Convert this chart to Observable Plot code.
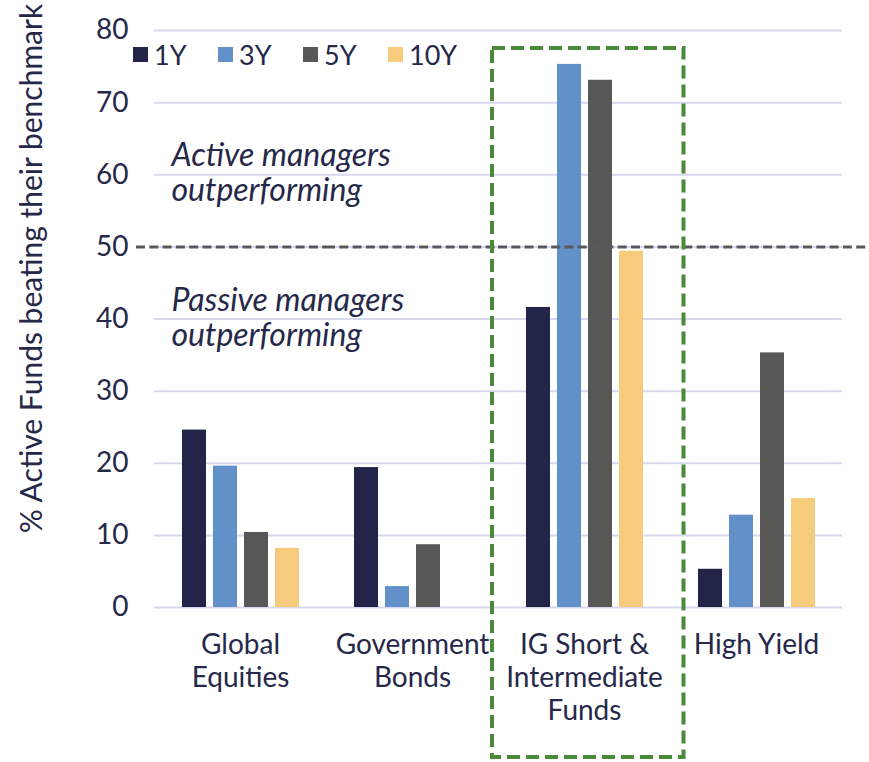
<!DOCTYPE html>
<html>
<head>
<meta charset="utf-8">
<script src="https://cdn.jsdelivr.net/npm/d3@7"></script>
<script src="https://cdn.jsdelivr.net/npm/@observablehq/plot@0.6"></script>
<style>
  html, body { margin: 0; padding: 0; background: #fff; }
  #wrap { position: relative; width: 869px; height: 762px; }
  #legend { position: absolute; top: 38px; left: 133px; display: flex; font: 27px Lato, sans-serif; color: #262849; }
  #legend .item { display: flex; align-items: center; width: 85px; }
  #legend .sw { width: 15px; height: 15px; margin-right: 6px; }
</style>
</head>
<body>
<div id="wrap"><div id="legend"></div></div>
<script>
const categories = ["Global Equities", "Government Bonds", "IG Short & Intermediate Funds", "High Yield"];
const tickLabels = ["Global\nEquities", "Government\nBonds", "IG Short &\nIntermediate\nFunds", "High Yield"];
const series = ["1Y", "3Y", "5Y", "10Y"];
const colors = ["#222448", "#6290c9", "#575756", "#f7cb7c"];
const values1Y  = [24.6, 19.4, 41.6, 5.3];
const values3Y  = [19.6, 2.9, 75.3, 12.8];
const values5Y  = [10.4, 8.7, 73.1, 35.3];
const values10Y = [8.2, null, 49.4, 15.1];
const yTicks = [0, 10, 20, 30, 40, 50, 60, 70, 80];
const yTitle = "% Active Funds beating their benchmark";
const thresholdValue = 50;
const annotations = [
  {text: "Active managers\noutperforming", y: 60.3},
  {text: "Passive managers\noutperforming", y: 40.3}
];
const highlightCategory = "IG Short & Intermediate Funds";
const highlightRange = {y1: -20.8, y2: 77.5};

const seriesValues = [values1Y, values3Y, values5Y, values10Y];
const data = [];
categories.forEach((c, i) => series.forEach((s, j) => {
  const v = seriesValues[j][i];
  if (v != null) data.push({cat: c, series: s, value: v});
}));

const textColor = "#262849";
const annoData = annotations.map(a => ({...a, cat: categories[0]}));
const ruleData = categories.map(c => ({cat: c, y: thresholdValue}));
const titleData = [{cat: categories[0], y: 47.0, text: yTitle}];
const fmt = d => tickLabels[categories.indexOf(d)];
const dashStyle = {stroke: "#595959", strokeWidth: 3, strokeDasharray: "9,4.3"};

const plot = Plot.plot({
  width: 869,
  height: 762,
  marginLeft: 153,
  marginRight: 26,
  marginTop: 30,
  marginBottom: 155,
  style: {fontFamily: "Lato, sans-serif", fontSize: "28px", color: textColor, background: "#fff"},
  fx: {domain: categories, padding: 0, label: null},
  x: {domain: series, paddingInner: 0.24, paddingOuter: 0.86, axis: null},
  y: {domain: [0, 80], label: null},
  color: {domain: series, range: colors},
  marks: [
    Plot.gridY(yTicks, {stroke: "#d7d7ee", strokeOpacity: 1, strokeWidth: 2}),
    Plot.axisY(yTicks, {tickSize: 0, tickPadding: 26, label: null, fontSize: 28}),
    Plot.axisFx({anchor: "bottom", tickSize: 0, tickPadding: 23, lineHeight: 1.18, fontSize: 28, label: null, tickFormat: fmt}),
    Plot.barY(data, {fx: "cat", x: "series", y: "value", fill: "series"}),
    Plot.ruleY(ruleData.slice(1, 3), {fx: "cat", y: "y", ...dashStyle}),
    Plot.ruleY(ruleData.slice(0, 1), {fx: "cat", y: "y", ...dashStyle, insetLeft: -18}),
    Plot.ruleY(ruleData.slice(3, 4), {fx: "cat", y: "y", ...dashStyle, insetRight: -26}),
    Plot.text(annoData, {fx: "cat", y: "y", text: "text", frameAnchor: "left", textAnchor: "start", dx: 17,
                         fontSize: 32, fontStyle: "italic", lineHeight: 1.1, fill: textColor}),
    Plot.text(titleData, {fx: "cat", y: "y", text: "text", frameAnchor: "left", textAnchor: "middle", dx: -122, rotate: -90,
                          fontSize: 30, fill: textColor}),
    Plot.rect([{cat: highlightCategory, ...highlightRange}], {fx: "cat", y1: "y1", y2: "y2",
      fill: "none", stroke: "#4a8b3b", strokeWidth: 4, strokeDasharray: "13,6", insetLeft: -6, insetRight: -13.5})
  ]
});

document.getElementById("wrap").prepend(plot);

const legend = document.getElementById("legend");
series.forEach((s, i) => {
  const item = document.createElement("div");
  item.className = "item";
  const sw = document.createElement("div");
  sw.className = "sw";
  sw.style.background = colors[i];
  const t = document.createElement("span");
  t.textContent = s;
  item.append(sw, t);
  legend.append(item);
});
</script>
</body>
</html>
